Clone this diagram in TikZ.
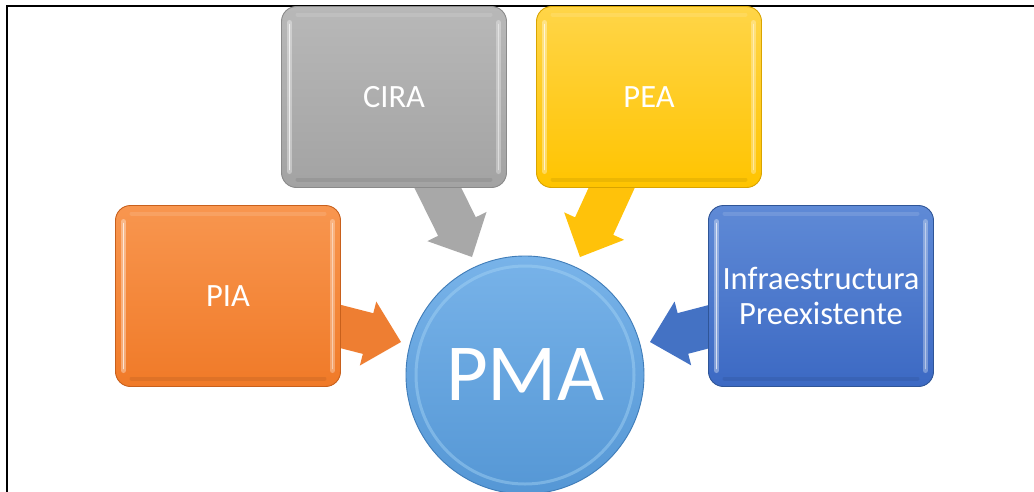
\documentclass[tikz,border=0pt]{standalone}
\usepackage{fontspec}
\setmainfont{Carlito}
\usetikzlibrary{calc}
\definecolor{grayT}{HTML}{B8B8B8}
\definecolor{grayB}{HTML}{A3A3A3}
\definecolor{grayD}{HTML}{8A8A8A}
\definecolor{grayA}{HTML}{A8A8A8}
\definecolor{yelT}{HTML}{FFD548}
\definecolor{yelB}{HTML}{FFC400}
\definecolor{yelD}{HTML}{D9A400}
\definecolor{yelA}{HTML}{FFC20A}
\definecolor{oraT}{HTML}{F8964F}
\definecolor{oraB}{HTML}{F07A28}
\definecolor{oraD}{HTML}{C8601C}
\definecolor{oraA}{HTML}{EE7E32}
\definecolor{bluT}{HTML}{5F8AD6}
\definecolor{bluB}{HTML}{3C69C3}
\definecolor{bluD}{HTML}{2F5597}
\definecolor{bluA}{HTML}{4472C4}
\definecolor{cirT}{HTML}{78B3E9}
\definecolor{cirB}{HTML}{5597D5}
\definecolor{cirD}{HTML}{3F7CB8}
\definecolor{cirL}{HTML}{A5D4F5}
\tikzset{
  x=1pt, y=-1pt,
  boxnode/.style={rounded corners=15pt, minimum width=225pt, minimum height=181pt,
    inner sep=0pt, align=center, text=white, line width=0.9pt,
    font=\fontsize{32.5}{35}\selectfont,
    path picture={
      \draw[white, opacity=0.35, line width=5pt, line cap=round]
        ([shift={(8pt,-16pt)}]path picture bounding box.north west) --
        ([shift={(8pt,16pt)}]path picture bounding box.south west);
      \draw[white, opacity=0.7, line width=1.8pt, line cap=round]
        ([shift={(8pt,-18pt)}]path picture bounding box.north west) --
        ([shift={(8pt,18pt)}]path picture bounding box.south west);
      \draw[white, opacity=0.3, line width=5pt, line cap=round]
        ([shift={(-8pt,-16pt)}]path picture bounding box.north east) --
        ([shift={(-8pt,16pt)}]path picture bounding box.south east);
      \draw[white, opacity=0.45, line width=1.8pt, line cap=round]
        ([shift={(-8pt,-18pt)}]path picture bounding box.north east) --
        ([shift={(-8pt,18pt)}]path picture bounding box.south east);
      \draw[white, opacity=0.12, line width=4pt, line cap=round]
        ([shift={(16pt,-8pt)}]path picture bounding box.north west) --
        ([shift={(-16pt,-8pt)}]path picture bounding box.north east);
      \draw[black, opacity=0.07, line width=4pt, line cap=round]
        ([shift={(16pt,8pt)}]path picture bounding box.south west) --
        ([shift={(-16pt,8pt)}]path picture bounding box.south east);
    }},
  graybox/.style={boxnode, draw=grayD, top color=grayT, bottom color=grayB},
  yelbox/.style={boxnode, draw=yelD, top color=yelT, bottom color=yelB},
  orabox/.style={boxnode, draw=oraD, top color=oraT, bottom color=oraB},
  blubox/.style={boxnode, draw=bluD, top color=bluT, bottom color=bluB},
  pmanode/.style={circle, minimum size=238pt, inner sep=0pt, draw=cirD, line width=0.9pt,
    top color=cirT, bottom color=cirB, text=white, font=\fontsize{81}{81}\selectfont},
  framebar/.style={black, line width=2pt},
}
\newcommand{\blockArrowX}[3]{%
  \coordinate (ba-h) at ($(#3)!34pt!(#2)$);
  \fill[#1] ($(#2)!21pt!90:(#3)$) -- ($(ba-h)!21pt!-90:(#2)$) -- ($(ba-h)!33pt!-90:(#2)$)
    -- (#3) -- ($(ba-h)!33pt!90:(#2)$) -- ($(ba-h)!21pt!90:(#2)$)
    -- ($(#2)!21pt!-90:(#3)$) -- cycle;
}
\begin{document}
\begin{tikzpicture}
\useasboundingbox (0,0) rectangle (1034,491);
\fill[white] (0,0) rectangle (1034,491);
% frame
\coordinate (fbl) at (7,495);
\coordinate (ftl) at (7,6);
\coordinate (ftr) at (1036,6);
\draw[framebar] (fbl) -- (ftl) -- (ftr);
% arrow coordinates
\coordinate (gs) at (431,174);
\coordinate (gt) at (472,257);
\coordinate (ys) at (618,174);
\coordinate (yt) at (580,257);
\coordinate (os) at (327,323);
\coordinate (ot) at (401,342);
\coordinate (bs) at (723,323);
\coordinate (bt) at (650,342);
\blockArrowX{grayA}{gs}{gt}
\blockArrowX{yelA}{ys}{yt}
\blockArrowX{oraA}{os}{ot}
\blockArrowX{bluA}{bs}{bt}
% boxes
\node[graybox] (cira) at (394,97) {CIRA};
\node[yelbox] (pea) at (649,97) {PEA};
\node[orabox] (pia) at (228,296) {PIA};
\node[blubox] (infra) at (821,296) {Infraestructura\\Preexistente};
% circle
\node[pmanode] (pma) at (525,375) {PMA};
\draw[cirL, opacity=0.45, line width=3pt] (pma.center) circle (109pt);
\end{tikzpicture}
\end{document}
